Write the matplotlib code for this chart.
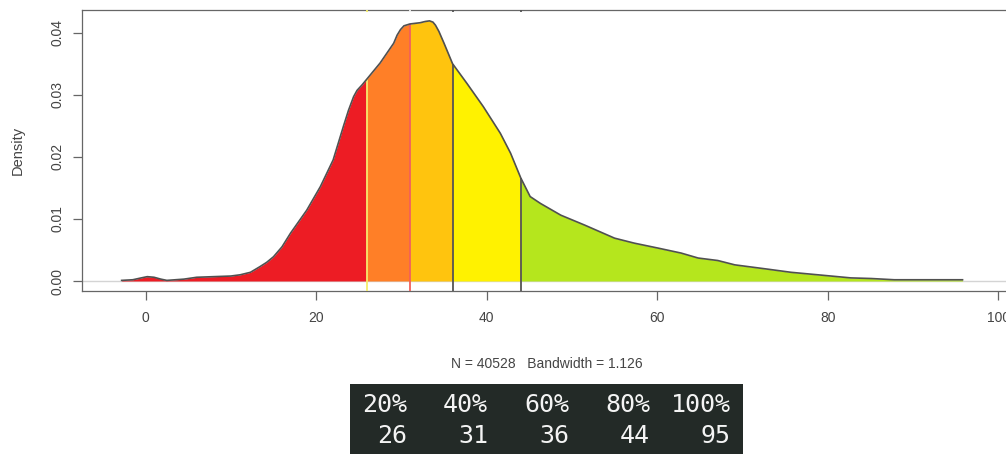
import numpy as np
import matplotlib
matplotlib.use('Agg')
import matplotlib.pyplot as plt
from matplotlib.patches import Rectangle

plt.rcParams['font.family'] = ['Liberation Sans', 'DejaVu Sans']

# density curve
xs = [-2.8, -1.5, -0.5, 0.2, 1.0, 1.8, 2.5, 3.5, 4.5, 6.0, 8.0, 10.0, 11.1, 12.3,
      13.4, 14.2, 15.0, 16.0, 17.0, 18.9, 20.5, 22.0, 23.2, 23.8, 24.4, 24.8, 25.4,
      26.0, 27.5, 28.3, 29.1, 29.5, 29.9, 30.3, 31.0, 31.6, 32.2, 32.8, 33.3, 33.7,
      34.0, 34.4, 35.0, 36.0, 37.7, 39.6, 41.6, 42.8, 44.0, 45.1, 46.3, 48.7, 51.5,
      55.0, 57.3, 60.1, 62.8, 64.8, 67.1, 69.1, 73.0, 75.7, 79.6, 82.7, 85.1, 87.8,
      91.0, 95.8]
dens = [0.0001, 0.0002, 0.0005, 0.0007, 0.0006, 0.0003, 0.0001, 0.0002, 0.0003,
        0.0006, 0.0007, 0.0008, 0.0010, 0.0014, 0.0023, 0.0030, 0.0039, 0.0055,
        0.0077, 0.0114, 0.0152, 0.0195, 0.0249, 0.0275, 0.0297, 0.0307, 0.0316,
        0.0326, 0.0351, 0.0367, 0.0383, 0.0396, 0.0405, 0.0411, 0.0414, 0.0415,
        0.0416, 0.0418, 0.0419, 0.0417, 0.0412, 0.0402, 0.0383, 0.0350, 0.0318,
        0.0281, 0.0238, 0.0206, 0.0166, 0.0136, 0.0125, 0.0106, 0.0090, 0.0069,
        0.0061, 0.0053, 0.0045, 0.0037, 0.0033, 0.0026, 0.0019, 0.0014, 0.0009,
        0.0005, 0.0004, 0.0002, 0.0002, 0.0002]

# quantiles
q_labels = ['20%', '40%', '60%', '80%', '100%']
q_values = [26, 31, 36, 44, 95]
fill_colors = ['#ED1C24', '#FF7F27', '#FFC40E', '#FFF200', '#B5E61D']
vline_colors = ['#F6EE6A', '#F2605A', '#555555', '#555555']

W, H = 1006, 454
fig = plt.figure(figsize=(W / 100, H / 100), dpi=100)
# plot box in pixels: left 82, right 1012 (past the edge), top 10, bottom 291
ax = fig.add_axes([82 / W, 1 - 291 / H, (1012 - 82) / W, (291 - 10) / H])

x = np.array(xs)
y = np.array(dens)

ax.axhline(0, color='#D4D4D4', lw=1.0, zorder=1)

lo = x.min()
for i, col in enumerate(fill_colors):
    hi = q_values[i] if i < len(q_values) - 1 else x.max()
    m = (x >= lo) & (x <= hi)
    ax.fill_between(x[m], 0, y[m], color=col, lw=0, zorder=2)
    lo = hi

ybot = -0.00161
ytop = 0.04365
for q, col in zip(q_values[:-1], vline_colors):
    ax.vlines(q, ybot, np.interp(q, x, y), color=col, lw=1.3, zorder=3)
    # the abline shows as a small mark on the top border
    ax.vlines(q, ytop - 0.0004, ytop, color=col if col != '#F2605A' else '#F4F4F4',
              lw=1.3, zorder=5, clip_on=False)

ax.plot(x, y, color='#505050', lw=1.2, zorder=4)

ax.set_xlim(-7.45, 101.6)
ax.set_ylim(ybot, ytop)
ax.set_xticks([0, 20, 40, 60, 80, 100])
ax.set_yticks([0.0, 0.01, 0.02, 0.03, 0.04])
ax.set_yticklabels(['0.00', '0.01', '0.02', '0.03', '0.04'], rotation=90, va='center')

for s in ax.spines.values():
    s.set_color('#666666')
    s.set_linewidth(0.9)
ax.tick_params(direction='out', length=6.5, width=0.9, color='#666666',
               labelcolor='#444444', labelsize=10)
ax.tick_params(axis='x', pad=8)
ax.tick_params(axis='y', pad=6)

ax.set_ylabel('Density', fontsize=10.5, color='#444444')
ax.yaxis.set_label_coords(-0.0613, 0.5)
ax.set_xlabel('N = 40528   Bandwidth = 1.126', fontsize=10, color='#444444')
ax.xaxis.set_label_coords(0.5, -0.235)

# quantile table below the chart
fig.patches.append(Rectangle((350 / W, 0), (743 - 350) / W, (454 - 384) / H,
                             transform=fig.transFigure, facecolor='#232A27',
                             edgecolor='none'))
for i, (lab, val) in enumerate(zip(q_labels, q_values)):
    xr = (407 + 81 * i) / W
    fig.text(xr, 1 - 412 / H, lab, ha='right', va='baseline', color='#F4F4F4',
             fontsize=18, family='DejaVu Sans Mono')
    fig.text(xr, 1 - 443 / H, str(val), ha='right', va='baseline', color='#F4F4F4',
             fontsize=18, family='DejaVu Sans Mono')

plt.savefig('out.png', dpi=100)
